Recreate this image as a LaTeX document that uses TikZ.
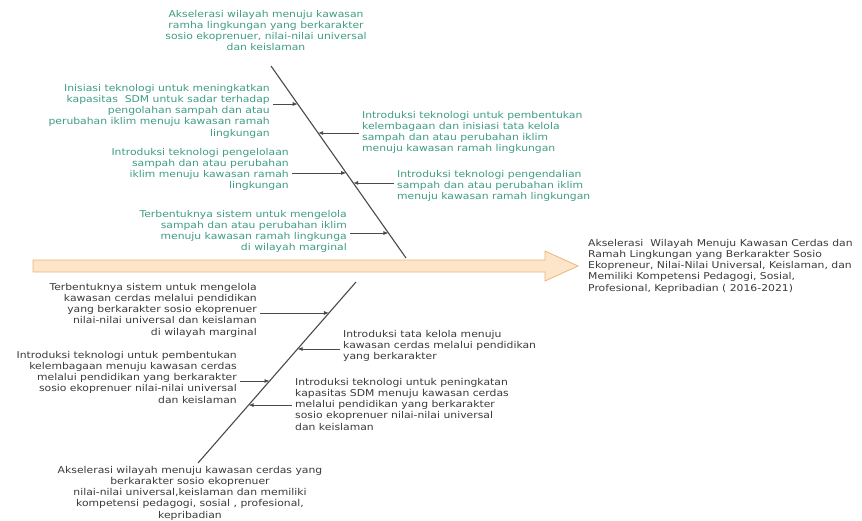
\documentclass[tikz,border=0pt]{standalone}
\usepackage{fontspec}
\setmainfont{DejaVu Sans}[FakeStretch=1.15]
\usetikzlibrary{arrows.meta}

\definecolor{bonegray}{HTML}{4A4A4A}
\definecolor{causegreen}{HTML}{3E9C84}
\definecolor{causegray}{HTML}{3A3A3A}
\definecolor{spinefill}{HTML}{FCE5C9}
\definecolor{spinedraw}{HTML}{EDB676}

\tikzset{
  cause/.style={inner sep=0pt, font=\fontsize{9.4}{11.2}\selectfont},
  upcause/.style={cause, text=causegreen},
  lowcause/.style={cause, text=causegray},
  bone/.style={draw=bonegray, line width=1.1pt},
  feed/.style={draw=bonegray, line width=0.8pt, shorten <=3pt,
    -{Latex[length=5pt,width=4pt]}}
}

\begin{document}
\begin{tikzpicture}[x=1pt,y=-1pt]
  \useasboundingbox (0,0) rectangle (862,520);

  % spine arrow
  \filldraw[fill=spinefill, draw=spinedraw, line width=0.8pt]
    (33,260) -- (545,260) -- (545,251) -- (578,266) -- (545,281)
    -- (545,272) -- (33,272) -- cycle;

  % effect
  \node[lowcause, align=left, anchor=north west] (goal) at (588,239)
    {Akselerasi\ \ Wilayah Menuju Kawasan Cerdas dan\\
     Ramah Lingkungan yang Berkarakter Sosio\\
     Ekopreneur, Nilai-Nilai Universal, Keislaman, dan\\
     Memiliki Kompetensi Pedagogi, Sosial,\\
     Profesional, Kepribadian ( 2016-2021)};

  % upper bone
  \coordinate (ut) at (271,66);
  \coordinate (ub) at (406,258);
  \draw[bone] (ut) -- (ub);
  \path (ut) -- (ub)
    coordinate[pos=0.198] (ua1)
    coordinate[pos=0.349] (ua2)
    coordinate[pos=0.557] (ua3)
    coordinate[pos=0.609] (ua4)
    coordinate[pos=0.870] (ua5);

  \node[upcause, align=center, anchor=north] (utop) at (266,10)
    {Akselerasi wilayah menuju kawasan\\
     ramha lingkungan yang berkarakter\\
     sosio ekoprenuer, nilai-nilai universal\\
     dan keislaman};

  \node[upcause, align=right, anchor=north east] (ul1) at (270,84)
    {Inisiasi teknologi untuk meningkatkan\\
     kapasitas\ \ SDM untuk sadar terhadap\\
     pengolahan sampah dan atau\\
     perubahan iklim menuju kawasan ramah\\
     lingkungan};
  \node[upcause, align=left, anchor=north west] (ur1) at (362,111)
    {Introduksi teknologi untuk pembentukan\\
     kelembagaan dan inisiasi tata kelola\\
     sampah dan atau perubahan iklim\\
     menuju kawasan ramah lingkungan};
  \node[upcause, align=right, anchor=north east] (ul2) at (289,148)
    {Introduksi teknologi pengelolaan\\
     sampah dan atau perubahan\\
     iklim menuju kawasan ramah\\
     lingkungan};
  \node[upcause, align=left, anchor=north west] (ur2) at (397,170)
    {Introduksi teknologi pengendalian\\
     sampah dan atau perubahan iklim\\
     menuju kawasan ramah lingkungan};
  \node[upcause, align=right, anchor=north east] (ul3) at (347,210)
    {Terbentuknya sistem untuk mengelola\\
     sampah dan atau perubahan iklim\\
     menuju kawasan ramah lingkunga\\
     di wilayah marginal};

  \draw[feed] (ul1.east |- ua1) -- (ua1);
  \draw[feed] (ur1.west |- ua2) -- (ua2);
  \draw[feed] (ul2.east |- ua3) -- (ua3);
  \draw[feed] (ur2.west |- ua4) -- (ua4);
  \draw[feed] (ul3.east |- ua5) -- (ua5);

  % lower bone
  \coordinate (lt) at (356,282);
  \coordinate (lb) at (198,463);
  \draw[bone] (lt) -- (lb);
  \path (lt) -- (lb)
    coordinate[pos=0.171] (la1)
    coordinate[pos=0.370] (la2)
    coordinate[pos=0.547] (la3)
    coordinate[pos=0.680] (la4);

  \node[lowcause, align=right, anchor=north east] (ll1) at (257,283)
    {Terbentuknya sistem untuk mengelola\\
     kawasan cerdas melalui pendidikan\\
     yang berkarakter sosio ekoprenuer\\
     nilai-nilai universal dan keislaman\\
     di wilayah marginal};
  \node[lowcause, align=left, anchor=north west] (lr1) at (343,330)
    {Introduksi tata kelola menuju\\
     kawasan cerdas melalui pendidikan\\
     yang berkarakter};
  \node[lowcause, align=right, anchor=north east] (ll2) at (237,351)
    {Introduksi teknologi untuk pembentukan\\
     kelembagaan menuju kawasan cerdas\\
     melalui pendidikan yang berkarakter\\
     sosio ekoprenuer nilai-nilai universal\\
     dan keislaman};
  \node[lowcause, align=left, anchor=north west] (lr2) at (295,378)
    {Introduksi teknologi untuk peningkatan\\
     kapasitas SDM menuju kawasan cerdas\\
     melalui pendidikan yang berkarakter\\
     sosio ekoprenuer nilai-nilai universal\\
     dan keislaman};

  \node[lowcause, align=center, anchor=north] (lbot) at (190,466)
    {Akselerasi wilayah menuju kawasan cerdas yang\\
     berkarakter sosio ekoprenuer\\
     nilai-nilai universal,keislaman dan memiliki\\
     kompetensi pedagogi, sosial , profesional,\\
     kepribadian};

  \draw[feed] (ll1.east |- la1) -- (la1);
  \draw[feed] (lr1.west |- la2) -- (la2);
  \draw[feed] (ll2.east |- la3) -- (la3);
  \draw[feed] (lr2.west |- la4) -- (la4);

\end{tikzpicture}
\end{document}
